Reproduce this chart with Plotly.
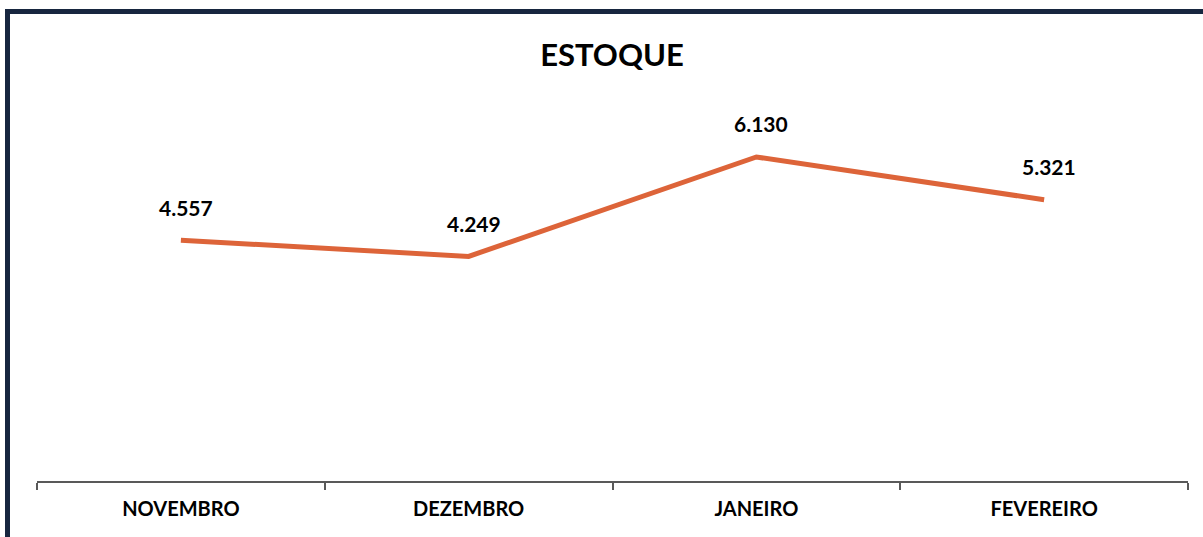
import plotly.graph_objects as go

categories = ["NOVEMBRO", "DEZEMBRO", "JANEIRO", "FEVEREIRO"]
estoque = [4557, 4249, 6130, 5321]
labels = [f"{v:,}".replace(",", ".") for v in estoque]

fig = go.Figure()
fig.add_trace(go.Scatter(
    x=categories, y=estoque, mode="lines",
    line=dict(color="#DD6439", width=5),
    hoverinfo="skip", showlegend=False,
))

for c, v, t in zip(categories, estoque, labels):
    fig.add_annotation(x=c, y=v, text=t, showarrow=False, yshift=33, xshift=5,
                       font=dict(family="Lato", size=21, color="#000000", weight="bold"))

W, H = 1203, 537
L, R, T, B = 37, 15, 111, 56
pw, ph = W - L - R, H - T - B

def px(x):
    return (x - L) / pw

def py(y):
    return (H - B - y) / ph

fig.add_shape(type="path", xref="paper", yref="paper",
              path=f"M {px(7.5)} {py(560)} L {px(7.5)} {py(11.5)} L {px(1220)} {py(11.5)}",
              line=dict(color="#17263F", width=5))

fig.update_layout(
    width=W, height=H,
    margin=dict(l=L, r=R, t=T, b=B),
    paper_bgcolor="white", plot_bgcolor="white",
    title=dict(text="<b>ESTOQUE</b>", x=612 / W, xanchor="center", y=1 - 55 / H, yanchor="middle",
               font=dict(family="Lato", size=31, color="#000000")),
    xaxis=dict(type="category", range=[-0.5, 3.5], tickson="boundaries", ticks="outside",
               ticklen=7, tickwidth=1.5, tickcolor="#595959", showline=True, linecolor="#595959",
               linewidth=2, showgrid=False, ticklabelstandoff=9,
               tickfont=dict(family="Lato", size=20, color="#000000", weight="bold")),
    yaxis=dict(range=[0, 7000], visible=False, showgrid=False),
)

fig.write_html("out.html", config={"displayModeBar": False},
               post_script="document.body.style.margin='0';document.body.style.overflow='hidden';")
